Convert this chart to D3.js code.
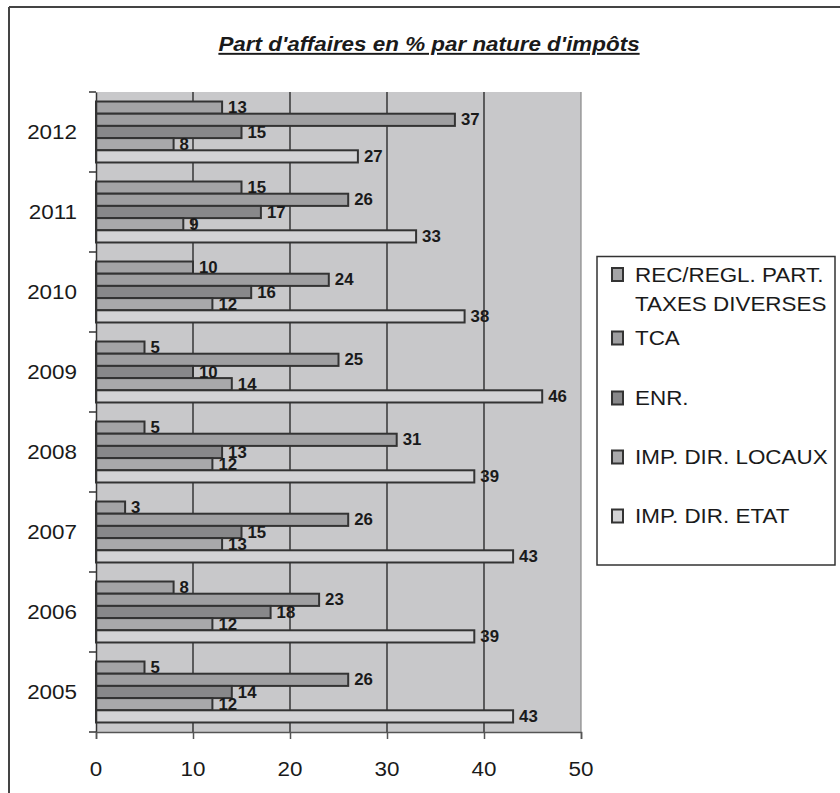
<!DOCTYPE html>
<html><head><meta charset="utf-8">
<script src="https://cdn.jsdelivr.net/npm/d3@7"></script>
<style>
html,body{margin:0;padding:0;background:#fff;}
text{font-family:"Liberation Sans",Arial,Helvetica,sans-serif;}
</style></head>
<body><svg id="c" width="840" height="793"></svg>
<script>
const years = ["2012","2011","2010","2009","2008","2007","2006","2005"];
const seriesNames = ["REC/REGL. PART. TAXES DIVERSES","TCA","ENR.","IMP. DIR. LOCAUX","IMP. DIR. ETAT"];
const legendLines = [["REC/REGL. PART.","TAXES DIVERSES"],["TCA"],["ENR."],["IMP. DIR. LOCAUX"],["IMP. DIR. ETAT"]];
const recRegl  = [13,15,10,5,5,3,8,5];
const tca      = [37,26,24,25,31,26,23,26];
const enr      = [15,17,16,10,13,15,18,14];
const impLocaux= [8,9,12,14,12,13,12,12];
const impEtat  = [27,33,38,46,39,43,39,43];
const xTicks = [0,10,20,30,40,50];
const title = "Part d'affaires en % par nature d'impôts";

const seriesValues = [recRegl, tca, enr, impLocaux, impEtat];
const colors = ["#a4a4a6","#9f9fa1","#88888a","#a9a9ab","#d3d3d5"];

const svg = d3.select("#c");
const SX = 1.15;
const plot = {l:96, r:581, t:92, b:732};

// outer frame
svg.append("line").attr("x1",9).attr("x2",840).attr("y1",7).attr("y2",7).attr("stroke","#444").attr("stroke-width",2);
svg.append("line").attr("x1",9).attr("x2",9).attr("y1",7).attr("y2",793).attr("stroke","#444").attr("stroke-width",2);

// title
svg.append("text").attr("transform",`translate(429,51) scale(${SX},1)`)
  .attr("text-anchor","middle").attr("font-size",19.5).attr("font-weight","bold").attr("font-style","italic")
  .attr("text-decoration","underline").attr("fill","#1a1a1a").text(title);

const x = d3.scaleLinear().domain([0,50]).range([plot.l, plot.r]);
const y0 = d3.scaleBand().domain(years).range([plot.t, plot.b]);
const y1 = d3.scaleBand().domain(seriesNames).range([0, y0.bandwidth()]).paddingInner(0).paddingOuter(0.78);

// plot background
svg.append("rect").attr("x",plot.l).attr("y",plot.t).attr("width",plot.r-plot.l).attr("height",plot.b-plot.t).attr("fill","#c8c8ca");

// gridlines
svg.append("g").selectAll("line").data(xTicks.filter(d=>d>0)).join("line")
  .attr("x1",d=>x(d)).attr("x2",d=>x(d)).attr("y1",plot.t).attr("y2",plot.b)
  .attr("stroke",d=>d===50?"#888":"#111").attr("stroke-width",1.2);

// bars
const groups = svg.append("g").selectAll("g").data(years).join("g")
  .attr("transform",d=>`translate(0,${y0(d)})`);
groups.each(function(yr, yi){
  const g = d3.select(this);
  seriesNames.forEach((s, si)=>{
    const v = seriesValues[si][yi];
    g.append("rect").attr("x",x(0)).attr("y",y1(s)).attr("width",x(v)-x(0)).attr("height",y1.bandwidth())
      .attr("fill",colors[si]).attr("stroke","#333").attr("stroke-width",2);
  });
  seriesNames.forEach((s, si)=>{
    const v = seriesValues[si][yi];
    g.append("text").attr("transform",`translate(${x(v)+6},${y1(s)+y1.bandwidth()/2+5.5}) scale(1.05,1)`)
      .attr("font-size",16).attr("font-weight","bold").attr("fill","#1a1a1a").text(v);
  });
});

// axes
const yAxis = d3.axisLeft(y0).tickSize(0).tickFormat("");
const ya = svg.append("g").attr("transform",`translate(${plot.l},0)`).call(yAxis);
ya.select(".domain").attr("stroke","#333").attr("stroke-width",1.5);
svg.append("g").selectAll("line").data(years.concat(["end"])).join("line")
  .attr("x1",plot.l-7).attr("x2",plot.l)
  .attr("y1",(d,i)=> i<years.length ? y0(d) : plot.b).attr("y2",(d,i)=> i<years.length ? y0(d) : plot.b)
  .attr("stroke","#333").attr("stroke-width",1.5);
svg.append("g").selectAll("text").data(years).join("text")
  .attr("transform",d=>`translate(77,${y0(d)+y0.bandwidth()/2+7}) scale(${SX},1)`)
  .attr("text-anchor","end").attr("font-size",19.5).attr("fill","#1a1a1a").text(d=>d);

const xAxis = d3.axisBottom(x).tickValues(xTicks).tickSize(7).tickFormat("");
const xa = svg.append("g").attr("transform",`translate(0,${plot.b})`).call(xAxis);
xa.select(".domain").attr("stroke","#555").attr("stroke-width",1.5);
xa.selectAll(".tick line").attr("stroke","#555").attr("stroke-width",1.5);
svg.append("g").selectAll("text").data(xTicks).join("text")
  .attr("transform",d=>`translate(${x(d)},776) scale(${SX},1)`)
  .attr("text-anchor","middle").attr("font-size",19.5).attr("fill","#1a1a1a").text(d=>d);

// legend
svg.append("rect").attr("x",597).attr("y",256.5).attr("width",238).attr("height",308.5)
  .attr("fill","#fff").attr("stroke","#333").attr("stroke-width",1.5);
const legendY = [274.5, 338, 398, 457, 516];
legendLines.forEach((lines, i)=>{
  const cy = legendY[i];
  svg.append("rect").attr("x",612).attr("y",cy-6.5).attr("width",11).attr("height",13)
    .attr("fill",colors[i]).attr("stroke","#333").attr("stroke-width",2);
  lines.forEach((ln, j)=>{
    svg.append("text").attr("transform",`translate(635,${cy+7+j*29}) scale(${SX},1)`)
      .attr("font-size",19.5).attr("fill","#1a1a1a").text(ln);
  });
});
</script></body></html>
